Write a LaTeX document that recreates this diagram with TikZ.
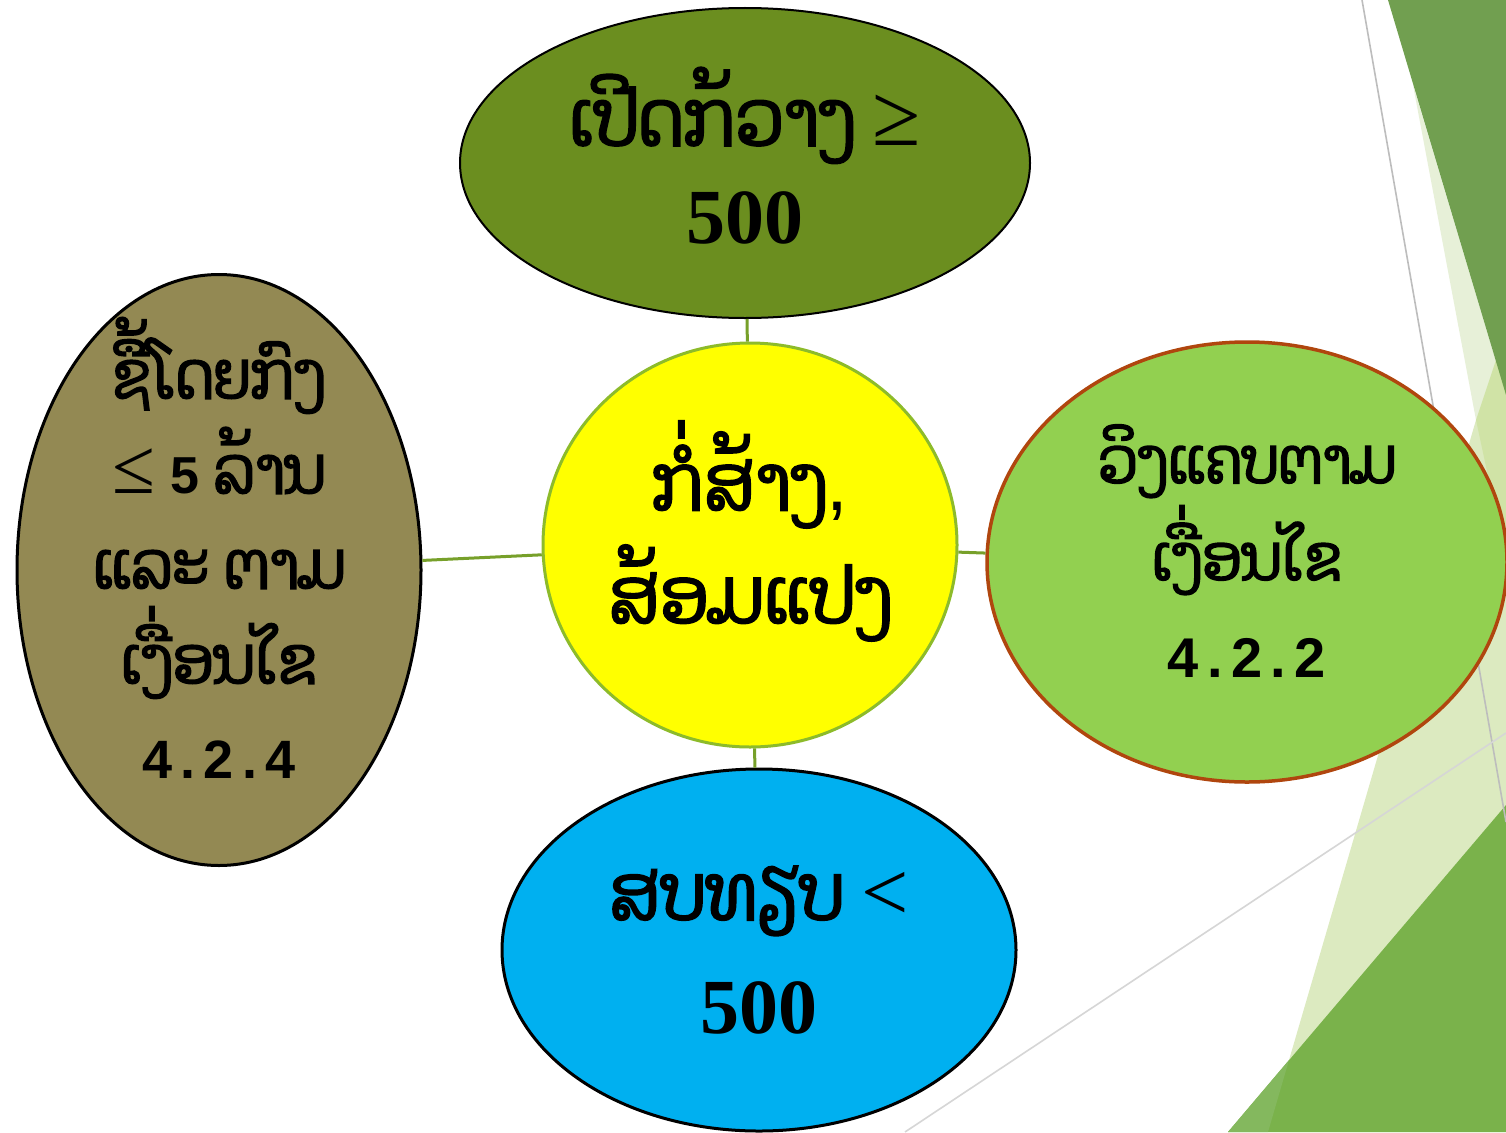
\documentclass[tikz,border=0pt]{standalone}
\usepackage{fontspec}
\setmainfont{Liberation Serif}
\newfontfamily\laofont[Script=Lao,FakeStretch=0.9,FakeBold=2.5]{Dhyana}
\newfontfamily\sansf{Liberation Sans}
\newfontfamily\numf[LetterSpace=15]{Liberation Sans Bold}
\usetikzlibrary{shapes.geometric}
\definecolor{topgreen}{HTML}{6B8E1F}
\definecolor{centeryellow}{HTML}{FFFF00}
\definecolor{centerrim}{HTML}{8DBB2A}
\definecolor{rightgreen}{HTML}{92D050}
\definecolor{rightrim}{HTML}{B0460E}
\definecolor{bottomblue}{HTML}{00B0F0}
\definecolor{lefttan}{HTML}{938953}
\definecolor{linkgreen}{HTML}{77A02A}
\definecolor{bgdark}{HTML}{719F50}
\definecolor{bgdarkb}{HTML}{7AB24B}
\definecolor{bgdarkc}{HTML}{84B85E}
\definecolor{bgpale}{HTML}{DCEAC0}
\definecolor{bgvpale}{HTML}{E7F0D8}
\definecolor{bgmid}{HTML}{D0E3A6}
\definecolor{bggrey}{HTML}{BDBDBD}
\definecolor{bggreyl}{HTML}{D6D6D6}
\newcommand{\bigsym}[2]{{\rmfamily\fontsize{#1}{#1}\selectfont\smash{#2}}}
\begin{document}
\begin{tikzpicture}[x=1pt,y=-1pt,
  bubble/.style={ellipse, inner sep=0pt},
  words/.style={inner sep=0pt, align=center, text=black},
  link/.style={draw=linkgreen, line width=3pt}]
\useasboundingbox (0,0) rectangle (1506,1132);
\fill[white] (0,0) rectangle (1506,1132);
% background facets
\fill[bgpale] (1268,1132) -- (1476,420) -- (1506,330) -- (1506,1132) -- cycle;
\fill[bgvpale] (1413,85) -- (1506,395) -- (1476,420) -- cycle;
\fill[bgmid] (1476,420) -- (1506,330) -- (1506,560) -- cycle;
\fill[bgdark] (1388,0) -- (1506,0) -- (1506,395) -- cycle;
\fill[bgdarkb] (1228,1132) -- (1506,805) -- (1506,1132) -- cycle;
\fill[bgdarkc] (1228,1132) -- (1268,1132) -- (1289,1060) -- cycle;
\draw[bggrey, line width=1.6pt] (1362,0) -- (1506,822);
\draw[bggreyl, line width=1.6pt] (905,1132) -- (1506,733);
% shapes
\node[bubble, fill=topgreen, draw=black, line width=2pt,
      minimum width=570pt, minimum height=310pt] (open) at (745,163) {};
\node[bubble, fill=centeryellow, draw=centerrim, line width=3pt,
      minimum width=414pt, minimum height=404pt] (build) at (750,545) {};
\node[bubble, fill=rightgreen, draw=rightrim, line width=3.5pt,
      minimum width=520pt, minimum height=440pt] (narrow) at (1247,562) {};
\node[bubble, fill=bottomblue, draw=black, line width=3pt,
      minimum width=514pt, minimum height=362pt] (compare) at (759,950) {};
\node[bubble, fill=lefttan, draw=black, line width=3pt,
      minimum width=404pt, minimum height=591pt] (direct) at (219,570) {};
% texts
\node[words, font=\fontsize{78}{98}\selectfont\laofont] (open-t) at (745,156)
  {ເປີດກ້ວາງ \bigsym{88}{≥}\\{\rmfamily\bfseries 500}};
\node[words, font=\fontsize{78}{113}\selectfont\laofont] (build-t) at (750,531)
  {ກໍ່ສ້າງ{\sansf ,}\\ສ້ອມແປງ};
\node[words, font=\fontsize{64}{97}\selectfont\laofont] (narrow-t) at (1247,551)
  {ວິງແຄບຕາມ\\ເງື່ອນໄຂ\\{\numf\fontsize{56}{97}\selectfont 4.2.2}};
\node[words, font=\fontsize{78}{113}\selectfont\laofont] (compare-t) at (759,950)
  {ສບທຽບ \bigsym{84}{<}\\{\rmfamily\bfseries 500}};
\node[words, font=\fontsize{66}{95}\selectfont\laofont] (direct-t) at (219,548)
  {ຊື້ໂດຍກົງ\\\bigsym{78}{≤} {\numf\fontsize{52}{95}\selectfont 5} ລ້ານ\\
   ແລະ ຕາມ\\ເງື່ອນໄຂ\\{\numf\fontsize{54}{95}\selectfont 4.2.4}};
% connectors
\draw[link] (build) -- (open);
\draw[link] (build) -- (narrow);
\draw[link] (build) -- (compare);
\draw[link] (build) -- (direct);
\end{tikzpicture}
\end{document}
